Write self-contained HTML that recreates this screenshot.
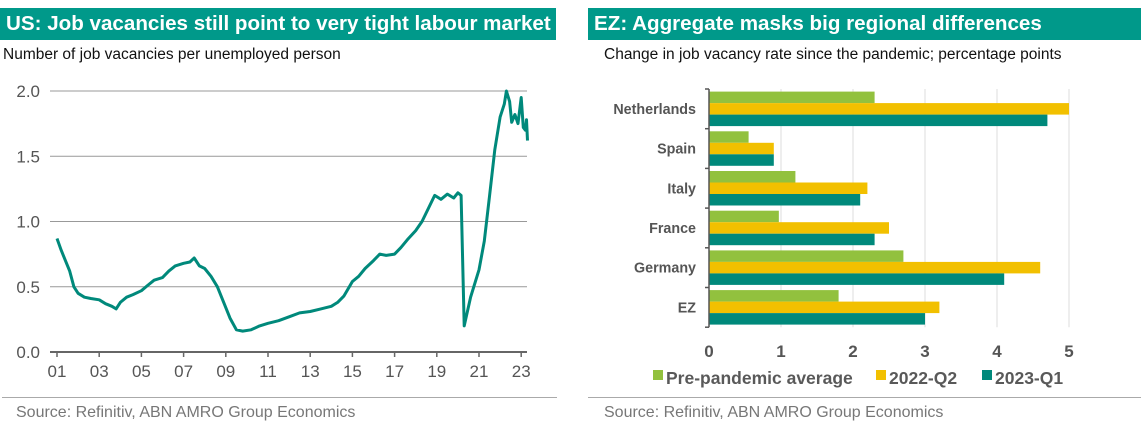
<!DOCTYPE html>
<html><head><meta charset="utf-8"><style>
body{margin:0;width:1146px;height:432px;background:#fff;overflow:hidden;font-family:"Liberation Sans",sans-serif;position:relative}
.hdr{position:absolute;top:8px;height:32px;background:#00998a;color:#fff;font-weight:bold;font-size:20.6px;line-height:32px;padding-left:6px;box-sizing:border-box;white-space:nowrap}
.sub{position:absolute;top:46px;font-size:15.5px;color:#111}
.src{position:absolute;top:404px;font-size:16px;color:#777}
.sep{position:absolute;top:397px;height:1px;background:#aaa}
svg{position:absolute;left:0;top:0}
</style></head><body>
<div class="hdr" style="left:0;width:556px">US: Job vacancies still point to very tight labour market</div>
<div class="hdr" style="left:588px;width:553px">EZ: Aggregate masks big regional differences</div>
<div class="sub" style="left:3px">Number of job vacancies per unemployed person</div>
<div class="sub" style="left:604px">Change in job vacancy rate since the pandemic; percentage points</div>
<div class="sep" style="left:2px;width:555px"></div>
<div class="sep" style="left:588px;width:553px"></div>
<div class="src" style="left:16px">Source: Refinitiv, ABN AMRO Group Economics</div>
<div class="src" style="left:604px">Source: Refinitiv, ABN AMRO Group Economics</div>
<svg width="1146" height="432" id="svg"></svg>
<script>
const usYears=[2001.0,2001.2,2001.4,2001.6,2001.8,2002.0,2002.3,2002.6,2003.0,2003.3,2003.6,2003.8,2004.0,2004.3,2004.6,2005.0,2005.3,2005.6,2006.0,2006.3,2006.6,2007.0,2007.3,2007.5,2007.75,2008.0,2008.3,2008.6,2008.9,2009.2,2009.5,2009.8,2010.2,2010.6,2011.0,2011.5,2012.0,2012.5,2013.0,2013.5,2014.0,2014.3,2014.6,2015.0,2015.3,2015.6,2016.0,2016.3,2016.6,2017.0,2017.3,2017.6,2018.0,2018.3,2018.6,2018.9,2019.2,2019.5,2019.8,2020.0,2020.15,2020.3,2020.6,2021.0,2021.25,2021.5,2021.75,2022.0,2022.2,2022.3,2022.45,2022.55,2022.7,2022.85,2023.0,2023.1,2023.2,2023.25,2023.3];
const usValues=[0.87,0.78,0.70,0.62,0.50,0.45,0.42,0.41,0.40,0.37,0.35,0.33,0.38,0.42,0.44,0.47,0.51,0.55,0.57,0.62,0.66,0.68,0.69,0.72,0.66,0.64,0.58,0.50,0.38,0.26,0.17,0.16,0.17,0.20,0.22,0.24,0.27,0.30,0.31,0.33,0.35,0.38,0.43,0.54,0.58,0.64,0.70,0.75,0.74,0.75,0.80,0.86,0.93,1.00,1.10,1.20,1.17,1.21,1.18,1.22,1.20,0.20,0.42,0.63,0.85,1.20,1.55,1.80,1.90,2.00,1.92,1.76,1.82,1.75,1.95,1.72,1.70,1.78,1.62];
const usYTicks=[0,0.5,1.0,1.5,2.0];
const usYLabels=["0.0","0.5","1.0","1.5","2.0"];
const usXTicks=[2001,2003,2005,2007,2009,2011,2013,2015,2017,2019,2021,2023];
const usXLabels=["01","03","05","07","09","11","13","15","17","19","21","23"];
const ezCats=["Netherlands","Spain","Italy","France","Germany","EZ"];
const ezPre=[2.3,0.55,1.2,0.97,2.7,1.8];
const ez22=[5.0,0.9,2.2,2.5,4.6,3.2];
const ez23=[4.7,0.9,2.1,2.3,4.1,3.0];
const ezXTicks=[0,1,2,3,4,5];
const ezSeriesNames=["Pre-pandemic average","2022-Q2","2023-Q1"];

const NS="http://www.w3.org/2000/svg",svg=document.getElementById('svg');
function mk(t,a,p){const e=document.createElementNS(NS,t);for(const k in a)e.setAttribute(k,a[k]);(p||svg).appendChild(e);return e;}
const ux=y=>57+(y-2001)*21.1, uy=v=>352-v*130.5;
usYTicks.forEach((v,i)=>{
 if(v>0){const g=mk('line',{x1:50,x2:527,y1:uy(v),y2:uy(v),stroke:'#999','stroke-width':1});
 
 }
 const t=mk('text',{x:40,y:uy(v)+6,'text-anchor':'end','font-size':17,fill:'#555'});t.textContent=usYLabels[i];
 
 
});
const ax=mk('line',{x1:50,x2:527,y1:352,y2:352,stroke:'#666','stroke-width':2});


usXTicks.forEach((y,i)=>{
 mk('line',{x1:ux(y),x2:ux(y),y1:352,y2:357,stroke:'#666','stroke-width':1.5});
 const t=mk('text',{x:ux(y),y:377,'text-anchor':'middle','font-size':17,fill:'#555'});t.textContent=usXLabels[i];
 
 
});
const ln=mk('polyline',{points:usYears.map((y,i)=>ux(y).toFixed(1)+','+uy(usValues[i]).toFixed(1)).join(' '),fill:'none',stroke:'#00897b','stroke-width':3,'stroke-linejoin':'round'});


const ex=v=>709+v*72, top0=89, band=39.7, bh=11.5;
ezXTicks.forEach(v=>{
 if(v>0){const g=mk('line',{x1:ex(v),x2:ex(v),y1:top0,y2:top0+band*6,stroke:'#ddd','stroke-width':1});
 
 }
 const t=mk('text',{x:ex(v),y:357,'text-anchor':'middle','font-size':17,'font-weight':'bold',fill:'#555'});t.textContent=v;
 
 
});
const cols=['#92c13e','#f2c000','#00897b'], series=[ezPre,ez22,ez23];
ezCats.forEach((c,i)=>{
 const y0=top0+i*band+2.6;
 series.forEach((s,j)=>{
  const r=mk('rect',{x:ex(0),y:y0+j*bh,width:ex(s[i])-ex(0),height:bh,fill:cols[j]});
  
  
 });
 const t=mk('text',{x:696,y:top0+i*band+band/2+5,'text-anchor':'end','font-size':14.3,'font-weight':'bold',fill:'#555'});t.textContent=c;
 
 
});
for(let i=0;i<=6;i++)mk('line',{x1:705,x2:709,y1:top0+i*band,y2:top0+i*band,stroke:'#555','stroke-width':1.5});
const ya=mk('line',{x1:709,x2:709,y1:top0,y2:top0+band*6,stroke:'#555','stroke-width':1.5});


const lx=[653,876,982];
ezSeriesNames.forEach((n,j)=>{
 const r=mk('rect',{x:lx[j],y:370,width:10,height:10,fill:cols[j]});
 
 
 const t=mk('text',{x:lx[j]+13,y:384,'font-size':17.5,'font-weight':'bold',fill:'#595959'});t.textContent=n;
 
 
});
</script>
</body></html>
